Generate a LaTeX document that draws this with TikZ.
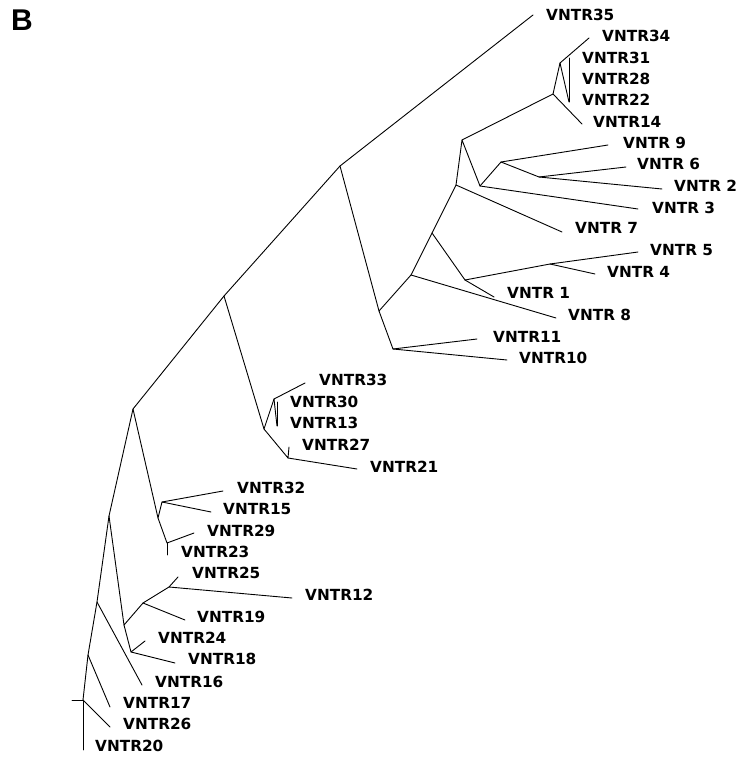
\documentclass[tikz,border=0pt]{standalone}
\usepackage{fontspec}
\newfontfamily\labfont{DejaVu Sans}
\newfontfamily\bigfont{Liberation Sans}
\begin{document}
\begin{tikzpicture}[x=1pt,y=-1pt,
  br/.style={line width=0.9pt,line cap=round,line join=round},
  lab/.style={anchor=west,inner sep=0pt,font=\labfont\bfseries\fontsize{15.3}{18}\selectfont}]
\useasboundingbox[fill=white] (0,0) rectangle (739,762);
\node[anchor=north west,inner sep=0pt,font=\bigfont\bfseries\fontsize{30}{32}\selectfont] (panel) at (11,10) {B};
% internal nodes
\coordinate (root) at (83,700); \coordinate (stub) at (72,700);
\coordinate (AB) at (88,655); \coordinate (AA) at (97,602);
\coordinate (PP) at (109,516); \coordinate (P) at (133,409);
\coordinate (W) at (124,625); \coordinate (X) at (143,603);
\coordinate (Y) at (169,587); \coordinate (Z) at (131,652);
\coordinate (Q) at (158,518); \coordinate (R) at (162,502);
\coordinate (S) at (167,543); \coordinate (K1) at (224,296);
\coordinate (T) at (264,429); \coordinate (U) at (274,399);
\coordinate (V) at (288,458); \coordinate (N) at (340,166);
\coordinate (L) at (379,311); \coordinate (M) at (393,349);
\coordinate (H) at (411,275); \coordinate (I) at (432,233);
\coordinate (J) at (465,280); \coordinate (Kn) at (550,264);
\coordinate (E) at (456,185); \coordinate (C) at (462,140);
\coordinate (D) at (480,186); \coordinate (F) at (501,162);
\coordinate (G) at (539,177); \coordinate (Bn) at (553,94);
\coordinate (A) at (560,63);
% tips
\coordinate (t35) at (533,15); \coordinate (t34) at (589,38);
\coordinate (ca) at (569,58); \coordinate (cb) at (569,102);
\coordinate (t14) at (582,124); \coordinate (t9) at (608,145);
\coordinate (t6) at (626,167); \coordinate (t2) at (662,189);
\coordinate (t3) at (638,209); \coordinate (t7) at (562,232);
\coordinate (t5) at (638,252); \coordinate (t4) at (595,274);
\coordinate (t1) at (494,297); \coordinate (t8) at (556,318);
\coordinate (t11) at (477,339); \coordinate (t10) at (507,360);
\coordinate (t33) at (305,383);
\coordinate (cc) at (277,402); \coordinate (cd) at (277,426);
\coordinate (t27) at (289,447); \coordinate (t21) at (357,469);
\coordinate (t32) at (223,491); \coordinate (t15) at (211,512);
\coordinate (t29) at (194,533); \coordinate (t23) at (167,555);
\coordinate (t25) at (178,577); \coordinate (t12) at (292,598);
\coordinate (t19) at (185,620); \coordinate (t24) at (145,641);
\coordinate (t18) at (175,663); \coordinate (t16) at (142,685);
\coordinate (t17) at (110,707); \coordinate (t26) at (110,727);
\coordinate (t20) at (83,750);
% branches
\draw[br] (stub) -- (root) -- (t20);
\draw[br] (root) -- (t26);
\draw[br] (root) -- (AB) -- (AA) -- (PP) -- (P) -- (K1) -- (N) -- (t35);
\draw[br] (AB) -- (t17);
\draw[br] (AA) -- (t16);
\draw[br] (PP) -- (W) -- (X) -- (Y) -- (t25);
\draw[br] (Y) -- (t12);
\draw[br] (X) -- (t19);
\draw[br] (W) -- (Z) -- (t24);
\draw[br] (Z) -- (t18);
\draw[br] (P) -- (Q) -- (R) -- (t32);
\draw[br] (R) -- (t15);
\draw[br] (Q) -- (S) -- (t29);
\draw[br] (S) -- (t23);
\draw[br] (K1) -- (T) -- (U) -- (t33);
\draw[br] (U) -- (cd);
\draw[br] (cc) -- (cd);
\draw[br] (T) -- (V) -- (t27);
\draw[br] (V) -- (t21);
\draw[br] (N) -- (L) -- (M) -- (t11);
\draw[br] (M) -- (t10);
\draw[br] (L) -- (H) -- (t8);
\draw[br] (H) -- (I) -- (J) -- (Kn) -- (t5);
\draw[br] (Kn) -- (t4);
\draw[br] (J) -- (t1);
\draw[br] (I) -- (E) -- (t7);
\draw[br] (E) -- (C) -- (D) -- (t3);
\draw[br] (D) -- (F) -- (t9);
\draw[br] (F) -- (G) -- (t6);
\draw[br] (G) -- (t2);
\draw[br] (C) -- (Bn) -- (t14);
\draw[br] (Bn) -- (A) -- (t34);
\draw[br] (A) -- (cb);
\draw[br] (ca) -- (cb);
% labels
\node[lab] (l35) at (546,15) {VNTR35};
\node[lab] (l34) at (602,36) {VNTR34};
\node[lab] (l31) at (582,58) {VNTR31};
\node[lab] (l28) at (582,79) {VNTR28};
\node[lab] (l22) at (582,100) {VNTR22};
\node[lab] (l14) at (593,122) {VNTR14};
\node[lab] (l9) at (623,143) {VNTR 9};
\node[lab] (l6) at (637,164) {VNTR 6};
\node[lab] (l2) at (674,186) {VNTR 2};
\node[lab] (l3) at (652,208) {VNTR 3};
\node[lab] (l7) at (575,228) {VNTR 7};
\node[lab] (l5) at (650,250) {VNTR 5};
\node[lab] (l4) at (607,272) {VNTR 4};
\node[lab] (l1) at (507,293) {VNTR 1};
\node[lab] (l8) at (568,315) {VNTR 8};
\node[lab] (l11) at (493,337) {VNTR11};
\node[lab] (l10) at (519,358) {VNTR10};
\node[lab] (l33) at (319,380) {VNTR33};
\node[lab] (l30) at (290,402) {VNTR30};
\node[lab] (l13) at (290,423) {VNTR13};
\node[lab] (l27) at (302,445) {VNTR27};
\node[lab] (l21) at (370,467) {VNTR21};
\node[lab] (l32) at (237,488) {VNTR32};
\node[lab] (l15) at (223,509) {VNTR15};
\node[lab] (l29) at (207,531) {VNTR29};
\node[lab] (l23) at (181,552) {VNTR23};
\node[lab] (l25) at (192,573) {VNTR25};
\node[lab] (l12) at (305,595) {VNTR12};
\node[lab] (l19) at (197,617) {VNTR19};
\node[lab] (l24) at (158,638) {VNTR24};
\node[lab] (l18) at (188,659) {VNTR18};
\node[lab] (l16) at (155,682) {VNTR16};
\node[lab] (l17) at (123,703) {VNTR17};
\node[lab] (l26) at (123,724) {VNTR26};
\node[lab] (l20) at (95,746) {VNTR20};
\end{tikzpicture}
\end{document}
